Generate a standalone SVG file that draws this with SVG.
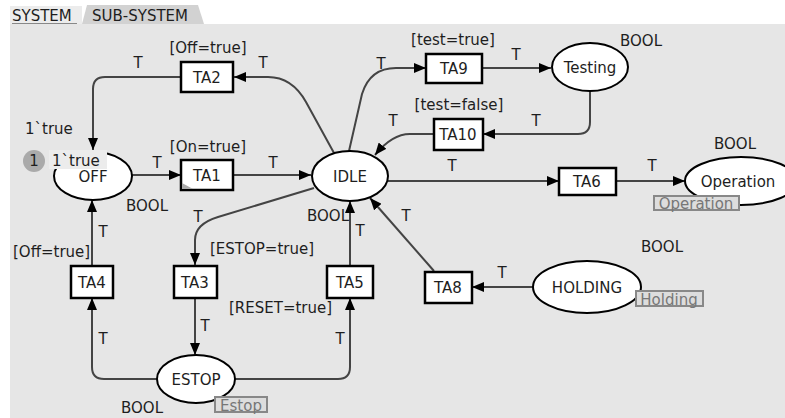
<svg xmlns="http://www.w3.org/2000/svg" width="785" height="418" viewBox="0 0 785 418">
<defs>
<marker id="ah" viewBox="0 0 12 10" refX="12" refY="5" markerWidth="12" markerHeight="10" markerUnits="userSpaceOnUse" orient="auto">
<path d="M0,0 L12,5 L0,10 Z" fill="#000"/>
</marker>
<style>
text{font-family:"DejaVu Sans","Liberation Sans",sans-serif;font-size:15px;fill:#1e1e1e}
.c{text-anchor:middle}
.arc{fill:none;stroke:#444;stroke-width:2;marker-end:url(#ah)}
.tr{fill:#fff;stroke:#000;stroke-width:2.5}
.pl{fill:#fff;stroke:#000;stroke-width:2}
.tag{fill:#ddd;stroke:#888;stroke-width:2}
.tagt{fill:#777;font-size:15px}
</style>
</defs>
<rect x="0" y="0" width="785" height="418" fill="#fff"/>
<rect x="10" y="24" width="775" height="394" fill="#e6e6e6"/>
<g id="tabs">
<rect x="10" y="6" width="72" height="18" fill="#ececec"/>
<path d="M82,24 L87,5 L198,5 L204,24 Z" fill="#d2d2d2"/>
<text x="12" y="21">SYSTEM</text>
<line x1="12" y1="23.5" x2="77" y2="23.5" stroke="#888" stroke-width="1"/>
<text x="92" y="21">SUB-SYSTEM</text>
</g>
<g id="connectors">
<path class="arc" d="M334,153 L306,102 Q292,77 268,77 L234,77"/>
<path class="arc" d="M181,77 L105,77 Q93,77 93,89 L93,150"/>
<path class="arc" d="M132,175 L181,175"/>
<path class="arc" d="M233,175 L311,175"/>
<path class="arc" d="M349,151 L362,94 Q370,68 396,68 L426,68"/>
<path class="arc" d="M482,68 L551,68"/>
<path class="arc" d="M590,91 L590,122 Q590,134 578,134 L483,134"/>
<path class="arc" d="M434,134 L410,134 Q392,134 375,155"/>
<path class="arc" d="M388,181 L559,181"/>
<path class="arc" d="M616,181 L685,181"/>
<path class="arc" d="M314,188 L218,217 Q195,224 195,240 L195,265"/>
<path class="arc" d="M195,298 L195,355"/>
<path class="arc" d="M157,379 L104,379 Q92,379 92,367 L92,298"/>
<path class="arc" d="M92,265 L92,200"/>
<path class="arc" d="M235,379 L338,379 Q350,379 350,367 L350,298"/>
<path class="arc" d="M350,265 L350,201"/>
<path class="arc" d="M533,287 L472,287"/>
<path class="arc" d="M434,271 L370,198"/>
</g>
<g id="arc-labels">
<text x="138" y="68" class="c">T</text>
<text x="263" y="68" class="c">T</text>
<text x="157" y="168" class="c">T</text>
<text x="273" y="168" class="c">T</text>
<text x="381" y="69" class="c">T</text>
<text x="516" y="60" class="c">T</text>
<text x="393" y="126" class="c">T</text>
<text x="536" y="126" class="c">T</text>
<text x="452" y="171" class="c">T</text>
<text x="652" y="171" class="c">T</text>
<text x="198" y="222" class="c">T</text>
<text x="205" y="331" class="c">T</text>
<text x="103" y="237" class="c">T</text>
<text x="103" y="344" class="c">T</text>
<text x="360" y="236" class="c">T</text>
<text x="340" y="344" class="c">T</text>
<text x="406" y="221" class="c">T</text>
<text x="502" y="278" class="c">T</text>
</g>
<g id="TA2"><rect class="tr" x="181" y="62" width="52" height="30"/><text x="207" y="83" class="c">TA2</text><text x="208" y="53" class="c">[Off=true]</text></g>
<g id="TA1"><rect class="tr" x="181" y="160" width="52" height="30"/><path d="M182,189 L182,183 L193,189 Z" fill="#aaa"/><text x="207" y="181" class="c">TA1</text><text x="208" y="152" class="c">[On=true]</text></g>
<g id="TA9"><rect class="tr" x="426" y="54" width="56" height="29"/><text x="454" y="74" class="c">TA9</text><text x="453" y="45" class="c">[test=true]</text></g>
<g id="TA10"><rect class="tr" x="434" y="119" width="49" height="31"/><text x="458" y="140" class="c">TA10</text><text x="459" y="110" class="c">[test=false]</text></g>
<g id="TA6"><rect class="tr" x="559" y="168" width="57" height="27"/><text x="587" y="187" class="c">TA6</text></g>
<g id="TA3"><rect class="tr" x="174" y="266" width="43" height="32"/><text x="195" y="288" class="c">TA3</text><text x="210" y="254">[ESTOP=true]</text></g>
<g id="TA4"><rect class="tr" x="71" y="266" width="42" height="32"/><text x="92" y="288" class="c">TA4</text><text x="13" y="257">[Off=true]</text></g>
<g id="TA5"><rect class="tr" x="327" y="266" width="46" height="32"/><text x="350" y="288" class="c">TA5</text><text x="229" y="313">[RESET=true]</text></g>
<g id="TA8"><rect class="tr" x="425" y="272" width="47" height="31"/><text x="448" y="293" class="c">TA8</text></g>
<g id="IDLE"><ellipse class="pl" cx="350" cy="176" rx="38" ry="25"/><text x="350" y="182" class="c">IDLE</text><text x="307" y="221">BOOL</text></g>
<g id="OFF"><ellipse class="pl" cx="93" cy="176" rx="39" ry="24"/><text x="93" y="182" class="c">OFF</text><text x="126" y="211">BOOL</text>
<text x="25" y="134">1`true</text>
<rect x="49" y="150" width="58" height="19" fill="#ececec"/><text x="52" y="166">1`true</text>
<circle cx="34" cy="161" r="11" fill="#aaa"/><text x="34" y="166" class="c" fill="#333">1</text></g>
<g id="Testing"><ellipse class="pl" cx="590" cy="67" rx="38" ry="24"/><text x="590" y="73" class="c">Testing</text><text x="620" y="46">BOOL</text></g>
<g id="Operation"><ellipse class="pl" cx="741" cy="181" rx="56" ry="24"/><text x="738" y="187" class="c">Operation</text><text x="714" y="149">BOOL</text>
<rect class="tag" x="654" y="196" width="85" height="14"/><text x="696" y="209" class="c tagt">Operation</text></g>
<g id="HOLDING"><ellipse class="pl" cx="587" cy="287" rx="54" ry="26"/><text x="587" y="293" class="c">HOLDING</text><text x="641" y="252">BOOL</text>
<rect class="tag" x="636" y="291" width="67" height="15"/><text x="669" y="305" class="c tagt">Holding</text></g>
<g id="ESTOP"><ellipse class="pl" cx="196" cy="379" rx="39" ry="24"/><text x="196" y="385" class="c">ESTOP</text><text x="121" y="413">BOOL</text>
<rect class="tag" x="215" y="397" width="52" height="15"/><text x="241" y="411" class="c tagt">Estop</text></g>
</svg>
